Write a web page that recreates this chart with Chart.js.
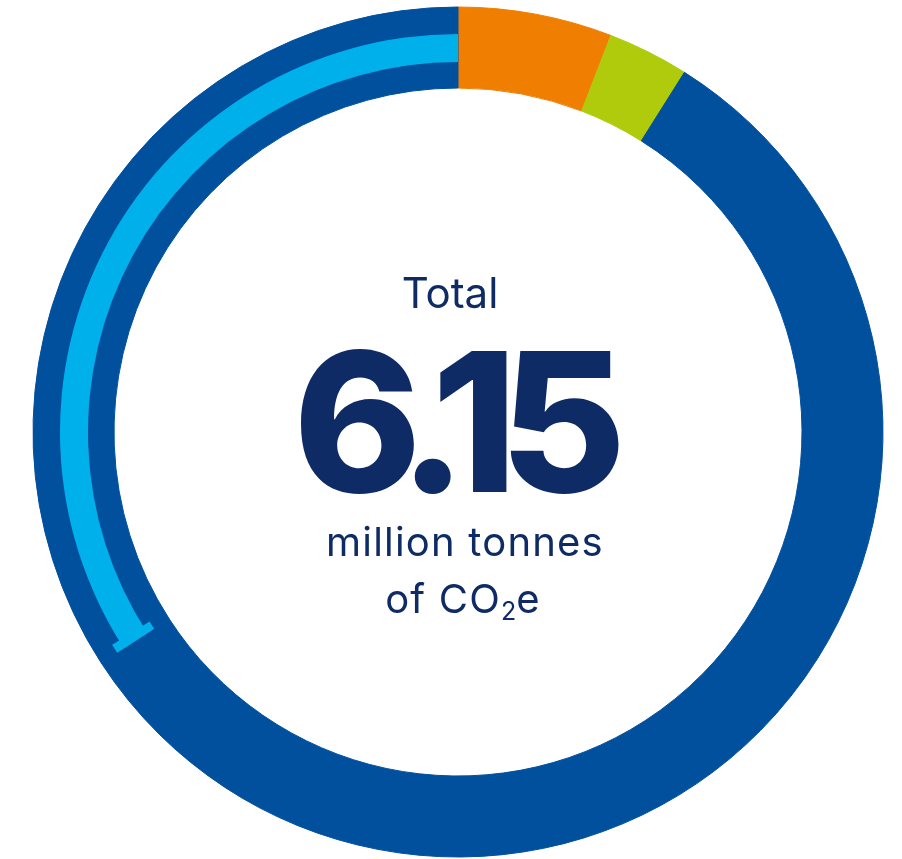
<!DOCTYPE html>
<html>
<head>
<meta charset="utf-8">
<script src="https://cdn.jsdelivr.net/npm/chart.js@4"></script>
<style>
    html, body { margin: 0; padding: 0; background: #fff; }
    #wrap { position: relative; width: 902px; height: 859px; }
    #wrap canvas { position: absolute; left: 0; top: 0; }
    .label {
        position: absolute;
        transform: translateX(-50%);
        white-space: nowrap;
        font-family: Inter, "Noto Sans", sans-serif;
        color: #0f2b65;
        line-height: 1;
    }
    #l_total { left: 450px; top: 272px; font-size: 42px; font-weight: 400; }
    #l_value { left: 451px; top: 325px; font-size: 194px; font-weight: 800; letter-spacing: -17.5px; }
    #l_unit1 { left: 465px; top: 522px; font-size: 40px; font-weight: 400; letter-spacing: 1.2px; }
    #l_unit2 { left: 463px; top: 579px; font-size: 40px; font-weight: 400; letter-spacing: 1.2px; }
    #l_unit2 sub { font-size: 25px; vertical-align: -7px; line-height: 0; letter-spacing: 0; }
</style>
</head>
<body>
<div id="wrap">
    <canvas id="ring" width="902" height="859"></canvas>
    <canvas id="band" width="902" height="859"></canvas>
    <div class="label" id="l_total">Total</div>
    <div class="label" id="l_value">6.15</div>
    <div class="label" id="l_unit1">million tonnes</div>
    <div class="label" id="l_unit2">of CO<sub>2</sub>e</div>
</div>
<script>
    // million tonnes CO2e (total 6.15)
    const categories = ['Scope 1', 'Scope 2', 'Scope 3 (other)', 'Scope 3 (highlighted)'];
    const values = [0.36, 0.19, 3.50, 2.10];

    const ringColors = ['#f07e00', '#b0cb0c', '#00509e', '#00509e'];
    const bandColors = ['rgba(0,0,0,0)', 'rgba(0,0,0,0)', 'rgba(0,0,0,0)', '#00b0eb'];

    const padding = { left: 14, right: 0, top: 5, bottom: 0 };

    // T-shaped end mark on the light blue band
    const bandCap = {
        id: 'bandCap',
        afterDatasetsDraw(chart) {
            const arc = chart.getDatasetMeta(0).data[3];
            if (!arc) return;
            const {x, y, startAngle, innerRadius, outerRadius} = arc.getProps(['x', 'y', 'startAngle', 'innerRadius', 'outerRadius'], true);
            const ctx = chart.ctx;
            const over = 8, thick = 9;
            const mid = (innerRadius + outerRadius) / 2;
            ctx.save();
            ctx.fillStyle = bandColors[3];
            ctx.beginPath();
            ctx.arc(x, y, outerRadius + over, startAngle, startAngle + thick / mid);
            ctx.arc(x, y, innerRadius - over, startAngle + thick / mid, startAngle, true);
            ctx.closePath();
            ctx.fill();
            ctx.restore();
        }
    };

    function makeDoughnut(id, colors, border, radius, cutout, extra) {
        return new Chart(document.getElementById(id), {
            type: 'doughnut',
            data: {
                labels: categories,
                datasets: [{
                    data: values,
                    backgroundColor: colors,
                    borderColor: colors,
                    borderWidth: border
                }]
            },
            options: {
                responsive: false,
                animation: false,
                radius: radius,
                cutout: cutout,
                layout: { padding: padding },
                plugins: {
                    legend: { display: false },
                    tooltip: { enabled: false }
                }
            },
            plugins: extra || []
        });
    }

    // outer ring: 425px outer radius, 344px inner
    makeDoughnut('ring', ringColors, 1, 425, (344 / 425 * 100) + '%');
    // light blue band inside the Scope 3 part: 398px to 370px
    makeDoughnut('band', bandColors, 0, 398, (370 / 398 * 100) + '%', [bandCap]);
</script>
</body>
</html>
